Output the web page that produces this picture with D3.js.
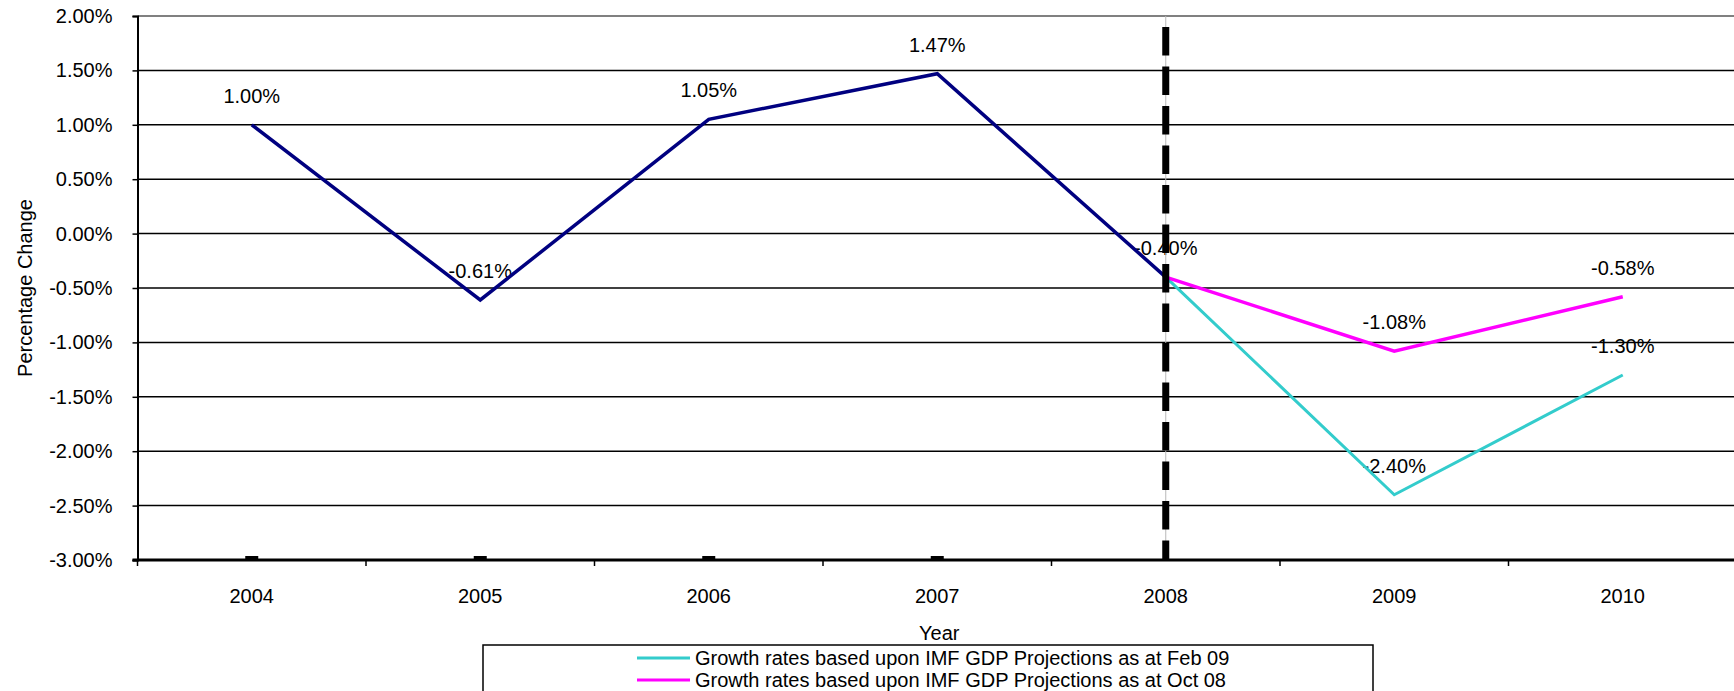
<!DOCTYPE html>
<html>
<head>
<meta charset="utf-8">
<script src="https://cdn.jsdelivr.net/npm/d3@7"></script>
<style>
  html, body { margin: 0; padding: 0; background: #ffffff; overflow: hidden; }
  svg { display: block; font-family: "Liberation Sans", Arial, sans-serif; }
</style>
</head>
<body>
<svg id="chart" width="1734" height="691"></svg>
<script>
// ---- data ----
const years = ["2004", "2005", "2006", "2007", "2008", "2009", "2010"];
const historical = [1.00, -0.61, 1.05, 1.47, -0.40, null, null];
const feb09 = [null, null, null, null, -0.40, -2.40, -1.30];
const oct08 = [null, null, null, null, -0.40, -1.08, -0.58];
const baseMarkers = [-3.00, -3.00, -3.00, -3.00, null, null, null];
const yTicks = [2.0, 1.5, 1.0, 0.5, 0.0, -0.5, -1.0, -1.5, -2.0, -2.5, -3.0];
const dividerYear = "2008";
const legendLabels = [
  "Growth rates based upon IMF GDP Projections as at Feb 09",
  "Growth rates based upon IMF GDP Projections as at Oct 08"
];
const xTitle = "Year";
const yTitle = "Percentage Change";

// ---- layout ----
const plotLeft = 137.5, plotRight = 1737, plotTop = 16, plotBottom = 560;
const svg = d3.select("#chart");

const x = d3.scaleBand().domain(years).range([plotLeft, plotRight]).padding(0);
const y = d3.scaleLinear().domain([-3, 2]).range([plotBottom, plotTop]);
const cx = yr => x(yr) + x.bandwidth() / 2;

const fmt = v => v.toFixed(2) + "%";

// gridlines
svg.append("g").selectAll("line").data(yTicks.filter(t => t > -3)).join("line")
  .attr("x1", plotLeft).attr("x2", plotRight)
  .attr("y1", d => y(d)).attr("y2", d => y(d))
  .attr("stroke", d => d === 2 ? "#808080" : "#000")
  .attr("stroke-width", d => d === 2 ? 2 : 1.5);

// y axis
const yAxis = svg.append("g").attr("transform", `translate(${plotLeft},0)`)
  .call(d3.axisLeft(y).tickValues(yTicks).tickFormat(fmt).tickSize(5).tickPadding(20));
yAxis.select(".domain").attr("stroke", "#000").attr("stroke-width", 2);
yAxis.selectAll(".tick line").attr("stroke", "#000").attr("stroke-width", 1.5);
yAxis.selectAll("text").attr("font-size", 20).attr("fill", "#000")
  .attr("font-family", "'Liberation Sans', Arial, sans-serif");

// x axis labels
const xAxis = svg.append("g").attr("transform", `translate(0,${plotBottom})`)
  .call(d3.axisBottom(x).tickSize(0).tickPadding(29));
xAxis.select(".domain").remove();
xAxis.selectAll("text").attr("font-size", 20).attr("fill", "#000")
  .attr("font-family", "'Liberation Sans', Arial, sans-serif");

// x boundary ticks
const bounds = years.map(yr => x(yr)).concat([x.range()[1]]);
svg.append("g").selectAll("line").data(bounds).join("line")
  .attr("x1", d => d).attr("x2", d => d)
  .attr("y1", plotBottom).attr("y2", plotBottom + 6)
  .attr("stroke", "#000").attr("stroke-width", 1.5);

// bottom axis line
svg.append("line").attr("x1", plotLeft - 5).attr("x2", plotRight)
  .attr("y1", y(-3)).attr("y2", y(-3))
  .attr("stroke", "#000").attr("stroke-width", 3);

// base markers (small dashes on axis)
svg.append("g").selectAll("rect")
  .data(years.map((yr, i) => ({ yr, v: baseMarkers[i] })).filter(d => d.v !== null))
  .join("rect")
  .attr("x", d => cx(d.yr) - 6.5).attr("y", d => y(d.v) - 4)
  .attr("width", 13).attr("height", 4).attr("fill", "#000");

// data labels
const labelData = [];
years.forEach((yr, i) => {
  if (historical[i] !== null) labelData.push({ yr, v: historical[i] });
  else {
    if (feb09[i] !== null) labelData.push({ yr, v: feb09[i] });
    if (oct08[i] !== null) labelData.push({ yr, v: oct08[i] });
  }
});
svg.append("g").selectAll("text").data(labelData).join("text")
  .attr("x", d => cx(d.yr)).attr("y", d => y(d.v) - 22)
  .attr("text-anchor", "middle").attr("font-size", 20).attr("fill", "#000")
  .text(d => fmt(d.v));

// lines
const lineGen = d3.line()
  .defined(d => d.v !== null)
  .x(d => cx(d.yr)).y(d => y(d.v));
const seriesList = [
  { vals: feb09, color: "#33CCCC", w: 3 },
  { vals: oct08, color: "#FF00FF", w: 3.5 },
  { vals: historical, color: "#000080", w: 3.5 }
];
seriesList.forEach(s => {
  svg.append("path")
    .datum(years.map((yr, i) => ({ yr, v: s.vals[i] })))
    .attr("d", lineGen)
    .attr("fill", "none").attr("stroke", s.color).attr("stroke-width", s.w)
    .attr("stroke-linejoin", "miter");
});

// divider line at 2008
svg.append("line")
  .attr("x1", cx(dividerYear)).attr("x2", cx(dividerYear))
  .attr("y1", y(2)).attr("y2", y(-3))
  .attr("stroke", "#b8b8b8").attr("stroke-width", 1);
svg.append("line")
  .attr("x1", cx(dividerYear)).attr("x2", cx(dividerYear))
  .attr("y1", y(2)).attr("y2", y(-3))
  .attr("stroke", "#000").attr("stroke-width", 7)
  .attr("stroke-dasharray", "28.5 11").attr("stroke-dashoffset", 28.5);

// axis titles
svg.append("text").attr("x", cx("2007") + 2).attr("y", 640)
  .attr("text-anchor", "middle").attr("font-size", 20).attr("fill", "#000")
  .text(xTitle);
svg.append("text")
  .attr("transform", `translate(32,${(plotTop + plotBottom) / 2}) rotate(-90)`)
  .attr("text-anchor", "middle").attr("font-size", 20).attr("fill", "#000")
  .text(yTitle);

// legend
const lg = svg.append("g");
lg.append("rect").attr("x", 483).attr("y", 645).attr("width", 890).attr("height", 70)
  .attr("fill", "#fff").attr("stroke", "#000").attr("stroke-width", 1.5);
const legendColors = ["#33CCCC", "#FF00FF"];
legendLabels.forEach((t, i) => {
  const ly = 658 + i * 22;
  lg.append("line").attr("x1", 637).attr("x2", 690).attr("y1", ly).attr("y2", ly)
    .attr("stroke", legendColors[i]).attr("stroke-width", 3);
  lg.append("text").attr("x", 695).attr("y", ly + 7)
    .attr("font-size", 20).attr("fill", "#000").text(t);
});
</script>
</body>
</html>
